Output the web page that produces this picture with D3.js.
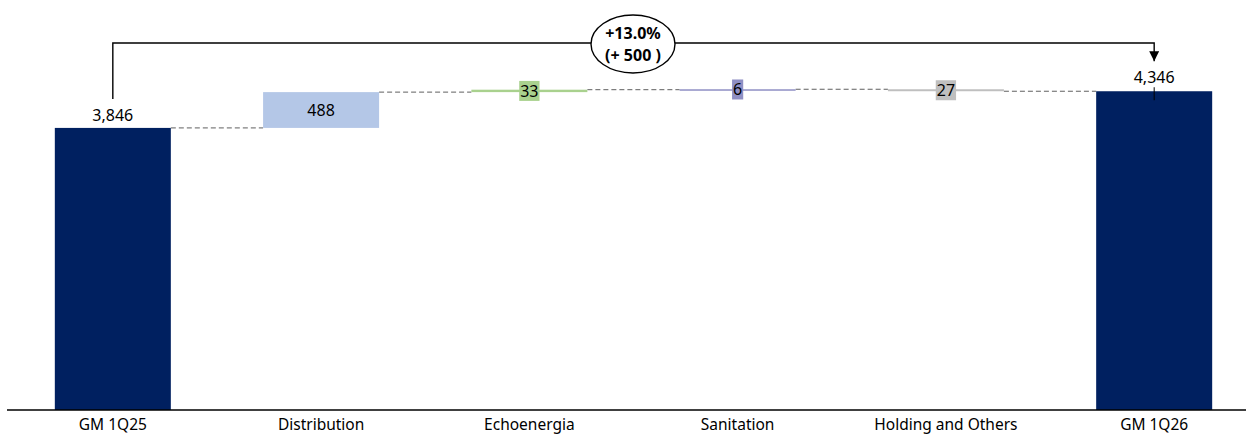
<!DOCTYPE html>
<html>
<head>
<meta charset="utf-8">
<script src="https://cdn.jsdelivr.net/npm/d3@7"></script>
<style>
  html, body { margin: 0; padding: 0; background: #fff; }
  svg { display: block; font-family: "Noto Sans", "Open Sans", sans-serif; }
</style>
</head>
<body>
<svg id="chart" width="1246" height="434"></svg>
<script>
// Gross margin bridge, 1Q25 -> 1Q26
const categories = ["GM 1Q25", "Distribution", "Echoenergia", "Sanitation", "Holding and Others", "GM 1Q26"];
const startValue = 3846;
const deltas = [488, 33, 6, -27];
const endValue = 4346;
const barColors = ["#002060", "#B4C7E7", "#A9D18E", "#8F8FC4", "#BFBFBF", "#002060"];
const changeLabel = ["+13.0%", "(+ 500 )"];

const W = 1246, H = 434;
const baseY = 410;
const svg = d3.select("#chart");

const x = d3.scaleBand().domain(categories).range([9, 1258]).paddingInner(0.443).paddingOuter(0.22);
const y = d3.scaleLinear().domain([0, 5590]).range([baseY, 0]);

// Build floating segments
const segs = [];
segs.push({ cat: categories[0], y0: 0, y1: startValue, label: d3.format(",")(startValue), total: true });
let run = startValue;
deltas.forEach((d, i) => {
  segs.push({ cat: categories[i + 1], y0: run, y1: run + d, label: d3.format(",")(Math.abs(d)), total: false });
  run += d;
});
segs.push({ cat: categories[5], y0: 0, y1: endValue, label: d3.format(",")(endValue), total: true });
segs.forEach((s, i) => s.color = barColors[i]);

// Dashed connectors between bars
const g = svg.append("g");
for (let i = 0; i < segs.length - 1; i++) {
  const level = segs[i].y1;
  g.append("line")
    .attr("x1", x(segs[i].cat) + x.bandwidth())
    .attr("x2", x(segs[i + 1].cat))
    .attr("y1", y(level)).attr("y2", y(level))
    .attr("stroke", "#5f5f5f").attr("stroke-width", 1)
    .attr("stroke-dasharray", "5,3");
}

// Bars (tiny deltas still drawn at least as a thin rule)
g.selectAll("rect.bar").data(segs).join("rect")
  .attr("class", "bar")
  .attr("x", d => x(d.cat))
  .attr("width", x.bandwidth())
  .attr("y", d => y(Math.max(d.y0, d.y1)))
  .attr("height", d => Math.max(1.5, Math.abs(y(d.y0) - y(d.y1))))
  .attr("fill", d => d.color);

// Axis baseline
svg.append("line").attr("x1", 7).attr("x2", W).attr("y1", baseY).attr("y2", baseY)
  .attr("stroke", "#000").attr("stroke-width", 1.3);

// Category labels
svg.append("g").selectAll("text").data(categories).join("text")
  .attr("x", d => x(d) + x.bandwidth() / 2)
  .attr("y", 430)
  .attr("text-anchor", "middle")
  .attr("font-size", 15.5)
  .attr("fill", "#000")
  .text(d => d);

// Value labels
segs.forEach((s, i) => {
  const cx = x(s.cat) + x.bandwidth() / 2;
  if (s.total) {
    svg.append("text").attr("x", cx).attr("y", y(s.y1) - (i === 0 ? 7 : 8))
      .attr("text-anchor", "middle").attr("font-size", 16).attr("fill", "#000").text(s.label);
  } else if (Math.abs(y(s.y0) - y(s.y1)) > 25) {
    svg.append("text").attr("x", cx).attr("y", (y(s.y0) + y(s.y1)) / 2 + 6)
      .attr("text-anchor", "middle").attr("font-size", 16).attr("fill", "#000").text(s.label);
  } else {
    const my = (y(s.y0) + y(s.y1)) / 2;
    const t = svg.append("text").attr("x", cx).attr("y", my + 6)
      .attr("text-anchor", "middle").attr("font-size", 16).attr("fill", "#000").text(s.label);
    const bb = t.node().getBBox();
    svg.insert("rect", () => t.node())
      .attr("x", bb.x - 1).attr("y", my - 10).attr("width", bb.width + 2).attr("height", 20)
      .attr("fill", s.color);
  }
});

// Small marker on the final bar top
const endX = x(categories[5]) + x.bandwidth() / 2;
svg.append("line").attr("x1", endX).attr("x2", endX)
  .attr("y1", y(endValue) - 4).attr("y2", y(endValue) + 9)
  .attr("stroke", "#000").attr("stroke-width", 1);

// Change bracket with arrow
const startX = x(categories[0]) + x.bandwidth() / 2;
const topY = 43;
svg.append("defs").append("marker")
  .attr("id", "arrow").attr("viewBox", "0 0 10 10").attr("refX", 10).attr("refY", 5)
  .attr("markerWidth", 10).attr("markerHeight", 10).attr("markerUnits", "userSpaceOnUse")
  .attr("orient", "auto")
  .append("path").attr("d", "M0,0 L10,5 L0,10 Z").attr("fill", "#000");
svg.append("path")
  .attr("d", `M${startX},${y(startValue) - 29} V${topY} H${endX} V${y(endValue) - 30}`)
  .attr("fill", "none").attr("stroke", "#000").attr("stroke-width", 1.4)
  .attr("marker-end", "url(#arrow)");

const ex = 633, ey = 44;
svg.append("ellipse").attr("cx", ex).attr("cy", ey).attr("rx", 42).attr("ry", 29)
  .attr("fill", "#fff").attr("stroke", "#000").attr("stroke-width", 1.4);
svg.append("text").attr("x", ex).attr("y", ey - 5).attr("text-anchor", "middle")
  .attr("font-size", 16).attr("font-weight", "bold").text(changeLabel[0]);
svg.append("text").attr("x", ex).attr("y", ey + 17).attr("text-anchor", "middle")
  .attr("font-size", 16).attr("font-weight", "bold").text(changeLabel[1]);
</script>
</body>
</html>
